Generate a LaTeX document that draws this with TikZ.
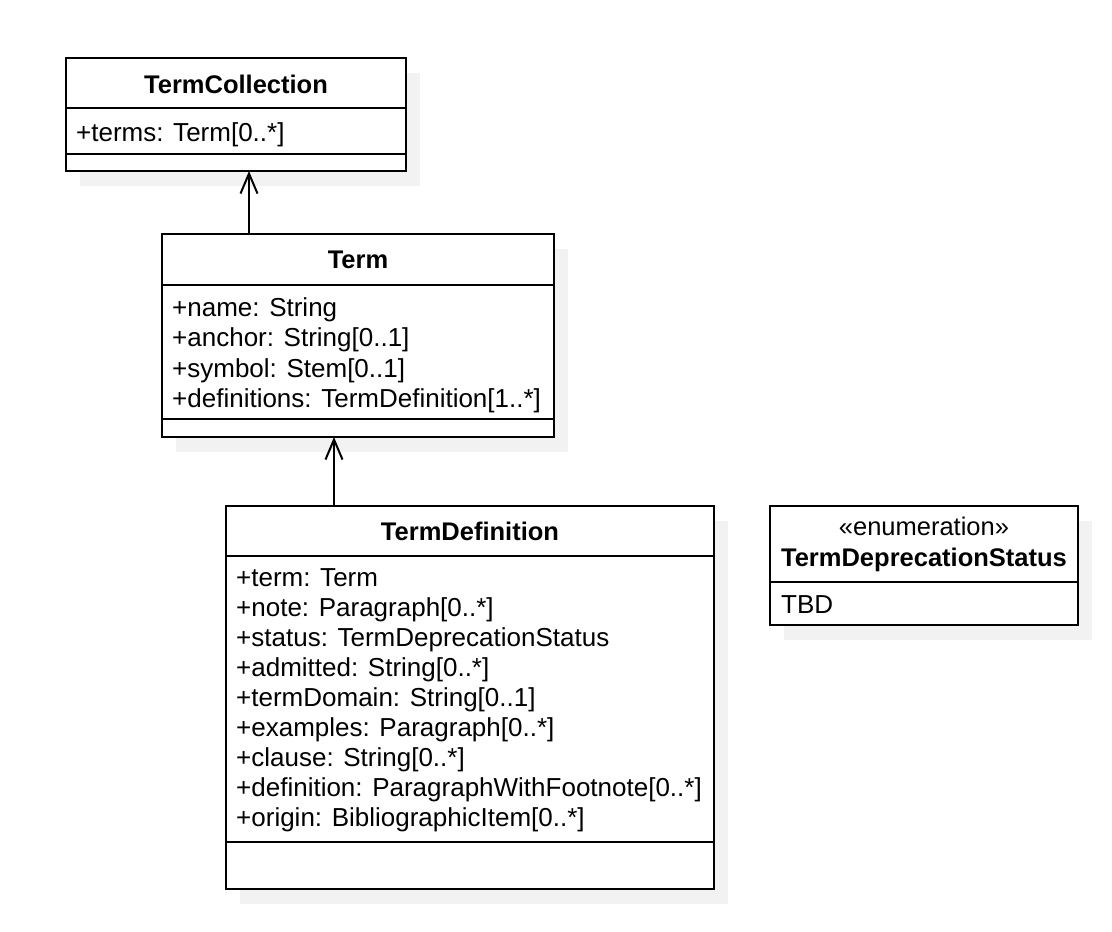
\documentclass[tikz,border=0pt]{standalone}
\usepackage{fontspec}
\setmainfont{Liberation Sans}
\usetikzlibrary{arrows.meta,shadows}
\definecolor{shadowgray}{RGB}{242,242,242}
\tikzset{
  umlclass/.style={draw=black, line width=2pt, fill=white, inner sep=0pt, outer sep=0pt,
    drop shadow={shadow xshift=14pt, shadow yshift=-15pt, fill=shadowgray, opacity=1}},
  divider/.style={line width=2pt},
  attr/.style={anchor=base west, inner sep=0pt, font=\fontsize{26}{30}\selectfont},
  title/.style={anchor=base, inner sep=0pt, font=\fontsize{25.5}{30}\selectfont\bfseries},
  stereo/.style={anchor=base, inner sep=0pt, font=\fontsize{25.5}{30}\selectfont},
  assoc/.style={line width=2pt, -{Straight Barb[length=20pt,width=17pt]}},
}
\begin{document}
\begin{tikzpicture}[x=1pt,y=-1pt]
\useasboundingbox[fill=white] (0,0) rectangle (1112,932);

% class TermCollection
\node[umlclass, minimum width=340pt, minimum height=113pt] (tc) at (236,114.5) {};
\draw[divider] ([yshift=-50pt]tc.north west) -- ([yshift=-50pt]tc.north east);
\draw[divider] ([yshift=-96pt]tc.north west) -- ([yshift=-96pt]tc.north east);
\node[title] (tcname) at (236,93) {TermCollection};
\node[attr] (tcattr1) at (76,141) {+terms: Term[0..*]};

% class Term
\node[umlclass, minimum width=392pt, minimum height=203pt] (term) at (358,335.5) {};
\draw[divider] ([yshift=-51pt]term.north west) -- ([yshift=-51pt]term.north east);
\draw[divider] ([yshift=-185pt]term.north west) -- ([yshift=-185pt]term.north east);
\node[title] (tname) at (358,268) {Term};
\node[attr] (tattr1) at (172,316) {+name: String};
\node[attr] (tattr2) at (172,346.5) {+anchor: String[0..1]};
\node[attr] (tattr3) at (172,377) {+symbol: Stem[0..1]};
\node[attr] (tattr4) at (172,407.5) {+definitions: TermDefinition[1..*]};

% class TermDefinition
\node[umlclass, minimum width=488pt, minimum height=383pt] (td) at (470,697.5) {};
\draw[divider] ([yshift=-50pt]td.north west) -- ([yshift=-50pt]td.north east);
\draw[divider] ([yshift=-336pt]td.north west) -- ([yshift=-336pt]td.north east);
\node[title] (tdname) at (470,540) {TermDefinition};
\node[attr] (tdattr1) at (236,586) {+term: Term};
\node[attr] (tdattr2) at (236,616) {+note: Paragraph[0..*]};
\node[attr] (tdattr3) at (236,646) {+status: TermDeprecationStatus};
\node[attr] (tdattr4) at (236,676) {+admitted: String[0..*]};
\node[attr] (tdattr5) at (236,706) {+termDomain: String[0..1]};
\node[attr] (tdattr6) at (236,736) {+examples: Paragraph[0..*]};
\node[attr] (tdattr7) at (236,766) {+clause: String[0..*]};
\node[attr] (tdattr8) at (236,796) {+definition: ParagraphWithFootnote[0..*]};
\node[attr] (tdattr9) at (236,826) {+origin: BibliographicItem[0..*]};

% enumeration TermDeprecationStatus
\node[umlclass, minimum width=308pt, minimum height=119pt] (enum) at (924,565.5) {};
\draw[divider] ([yshift=-76pt]enum.north west) -- ([yshift=-76pt]enum.north east);
\node[stereo] (estereo) at (924,535) {«enumeration»};
\node[title] (ename) at (924,566) {TermDeprecationStatus};
\node[attr] (elit1) at (781,613) {TBD};

% associations
\draw[assoc] ([xshift=87pt]term.north west) -- ([xshift=183pt]tc.south west);
\draw[assoc] ([xshift=108pt]td.north west) -- ([xshift=172pt]term.south west);
\end{tikzpicture}
\end{document}
